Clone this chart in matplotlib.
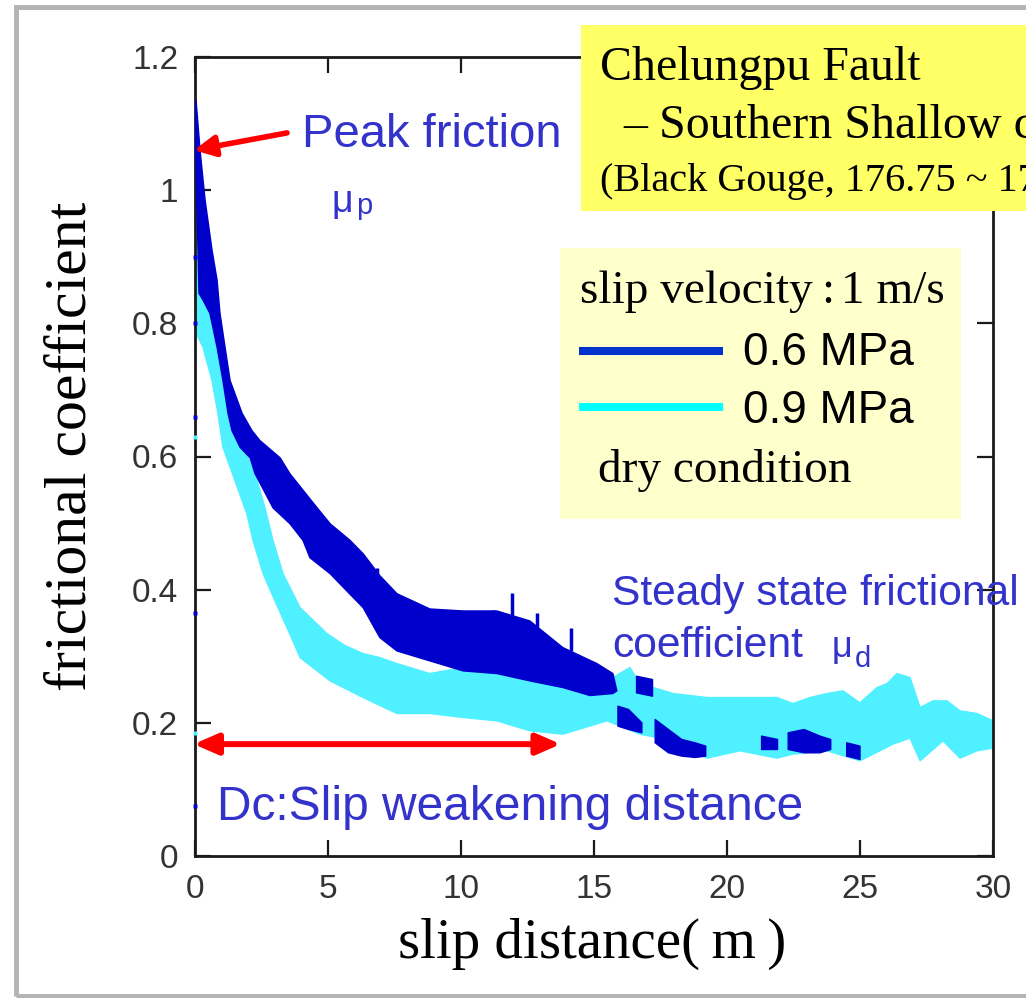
import numpy as np
import matplotlib
matplotlib.use('Agg')
import matplotlib.pyplot as plt
from matplotlib.patches import Rectangle
from matplotlib.lines import Line2D

# ---------------- data ----------------
# 0.6 MPa run: upper / lower edge of the scattered band
dark_up_x = [0.0, 0.04, 0.19, 0.38, 0.64, 0.83, 0.94, 1.13, 1.32, 1.77, 2.14, 2.44, 3.20, 3.57,
             4.59, 5.08, 5.83, 6.32, 6.95, 7.59, 8.83, 10.08, 11.35, 12.59, 13.83, 15.11, 15.71, 15.86]
dark_up_y = [1.10, 1.135, 1.060, 0.985, 0.910, 0.865, 0.815, 0.764, 0.714, 0.665, 0.639, 0.624, 0.598, 0.574,
             0.523, 0.499, 0.474, 0.454, 0.421, 0.394, 0.371, 0.368, 0.368, 0.353, 0.313, 0.289, 0.274, 0.248]
dark_lo_x = [0.15, 0.30, 0.56, 0.83, 1.05, 1.24, 1.39, 1.69, 2.07, 2.26, 2.93, 3.57, 4.06, 4.32,
             5.08, 5.71, 6.32, 6.95, 7.59, 8.83, 10.08, 11.35, 12.59, 13.83, 14.85, 15.71]
dark_lo_y = [0.845, 0.835, 0.815, 0.764, 0.714, 0.665, 0.639, 0.614, 0.598, 0.574, 0.523, 0.499, 0.474, 0.448,
             0.424, 0.398, 0.373, 0.328, 0.308, 0.293, 0.278, 0.274, 0.263, 0.253, 0.241, 0.244]
# sparse 0.6 MPa pieces beyond 16 m (nan = gap)
nan = np.nan
dark_tail_x = [15.9, 16.3, 16.8, nan, 16.6, 17.2, nan, 17.3, 17.8, 18.3, 18.8, 19.2, nan, 21.3, 21.9, nan,
               22.3, 22.9, 23.5, 23.9, nan, 24.5, 25.0]
dark_tail_hi = [0.225, 0.22, 0.20, nan, 0.27, 0.265, nan, 0.205, 0.19, 0.175, 0.17, 0.165, nan, 0.18, 0.175, nan,
                0.185, 0.19, 0.18, 0.175, nan, 0.17, 0.165]
dark_tail_lo = [0.195, 0.19, 0.185, nan, 0.245, 0.24, nan, 0.17, 0.155, 0.15, 0.148, 0.15, nan, 0.16, 0.16, nan,
                0.16, 0.155, 0.155, 0.16, nan, 0.15, 0.145]
# isolated spikes of the 0.6 MPa run
spike_x = [6.85, 11.2, 11.9, 12.86, 14.15]
spike_lo = [0.42, 0.36, 0.353, 0.343, 0.308]
spike_hi = [0.433, 0.37, 0.395, 0.365, 0.343]
dark_out_y = [0.66, 0.365, 0.075, 0.80, 0.90]

# 0.9 MPa run: upper / lower edge of the band
cyan_up_x = [0.0, 0.15, 0.23, 0.34, 0.49, 0.75, 0.94, 1.13, 1.39, 1.69, 2.26, 2.63, 2.93, 3.31, 3.95,
             4.96, 5.64, 6.32, 6.95, 7.59, 8.83, 10.08, 11.35, 12.59, 13.83, 15.11, 15.49, 16.35, 16.73,
             17.97, 19.25, 20.49, 21.88, 22.48, 23.12, 23.76, 24.36, 25.0, 25.64, 26.02, 26.39, 26.88,
             27.26, 27.74, 28.27, 28.76, 29.40, 30.0]
cyan_up_y = [1.075, 1.060, 0.985, 0.910, 0.865, 0.815, 0.764, 0.714, 0.665, 0.624, 0.574, 0.523, 0.474, 0.424, 0.373,
             0.334, 0.316, 0.304, 0.298, 0.289, 0.274, 0.283, 0.274, 0.274, 0.263, 0.259, 0.263, 0.283, 0.259,
             0.244, 0.238, 0.238, 0.238, 0.229, 0.238, 0.244, 0.248, 0.230, 0.253, 0.259, 0.274, 0.268,
             0.223, 0.233, 0.233, 0.218, 0.214, 0.203]
cyan_lo_x = [0.0, 0.30, 0.64, 0.86, 1.05, 1.50, 1.95, 2.18, 2.56, 3.12, 3.68, 3.95, 5.08, 6.32, 7.59,
             8.83, 10.08, 11.35, 12.59, 13.83, 15.49, 16.73, 17.97, 19.25, 20.49, 21.88, 22.48, 23.76,
             25.0, 26.24, 26.88, 27.26, 28.12, 28.76, 29.40, 30.0]
cyan_lo_y = [0.789, 0.764, 0.714, 0.665, 0.614, 0.564, 0.514, 0.474, 0.424, 0.373, 0.323, 0.298, 0.263, 0.238, 0.214,
             0.214, 0.208, 0.203, 0.188, 0.183, 0.203, 0.183, 0.173, 0.147, 0.158, 0.147, 0.153, 0.158,
             0.143, 0.168, 0.177, 0.143, 0.173, 0.147, 0.158, 0.162]
cyan_out_y = [0.63, 0.185]

x_ticks = [0, 5, 10, 15, 20, 25, 30]
y_ticks = [0, 0.2, 0.4, 0.6, 0.8, 1.0, 1.2]
y_tick_labels = ['0', '0.2', '0.4', '0.6', '0.8', '1', '1.2']

# Dc arrow and peak arrow (data units)
dc_range = (-0.05, 13.75)
dc_level = 0.168
peak_tip = (-0.04, 1.060)
peak_tail = (3.46, 1.086)

# ---------------- styling ----------------
W, H = 1026, 998
DARK = '#0000cc'
CYAN = '#4ff0ff'
ANN = '#3333cc'
SANS = 'Liberation Sans'
SERIF = 'Liberation Serif'

fig = plt.figure(figsize=(W / 100, H / 100), dpi=100)
fig.patch.set_facecolor('white')
ax = fig.add_axes([195 / W, 1 - 856 / H, (993 - 195) / W, (856 - 57) / H])

# bands
ax.fill(np.r_[cyan_up_x, cyan_lo_x[::-1]], np.r_[cyan_up_y, cyan_lo_y[::-1]],
        color=CYAN, lw=1.0, zorder=2)
ax.fill(np.r_[dark_up_x, dark_lo_x[::-1]], np.r_[dark_up_y, dark_lo_y[::-1]],
        color=DARK, lw=1.0, zorder=3)
ax.fill_between(dark_tail_x, dark_tail_lo, dark_tail_hi, color=DARK, lw=1.0, zorder=3)
ax.vlines(spike_x, spike_lo, spike_hi, color=DARK, lw=2.5, zorder=3)
ax.plot([0.0] * len(dark_out_y), dark_out_y, 's', ms=3, color=DARK, mec='none', clip_on=False, zorder=4)
ax.plot([0.0] * len(cyan_out_y), cyan_out_y, 's', ms=3, color=CYAN, mec='none', clip_on=False, zorder=4)

ax.set_xlim(0, 30)
ax.set_ylim(0, 1.2)
ax.set_xticks(x_ticks)
ax.set_xticklabels([str(v) for v in x_ticks])
ax.set_yticks(y_ticks)
ax.set_yticklabels(y_tick_labels)
for s in ax.spines.values():
    s.set_linewidth(2.0)
    s.set_color('#1a1a1a')
ax.tick_params(direction='in', length=11.5, width=1.6, top=True, right=True,
               colors='#1a1a1a', labelcolor='#333333', labelsize=24)
ax.tick_params(axis='x', pad=13)
ax.tick_params(axis='y', pad=12)
for lab in ax.get_xticklabels() + ax.get_yticklabels():
    lab.set_family(SANS)

# arrows
ax.annotate('', xy=peak_tip, xytext=peak_tail, annotation_clip=False,
            arrowprops=dict(arrowstyle='-|>,head_length=0.5,head_width=0.25', color='red',
                            lw=4, shrinkA=0, shrinkB=0, mutation_scale=25), zorder=6)
ax.annotate('', xy=(dc_range[0], dc_level), xytext=(dc_range[1], dc_level), annotation_clip=False,
            arrowprops=dict(arrowstyle='<|-|>,head_length=0.55,head_width=0.24', color='red',
                            lw=4.3, shrinkA=0, shrinkB=0, mutation_scale=26), zorder=6)


def ftext(px, py, s, **kw):
    kw.setdefault('va', 'baseline')
    kw.setdefault('ha', 'left')
    return fig.text(px / W, 1 - py / H, s, **kw)


# annotations
ftext(302, 147, 'Peak friction', fontsize=34, family=SANS, color=ANN)
ftext(332, 212, 'μ', fontsize=27, family=SANS, color=ANN)
ftext(356, 214, 'p', fontsize=21, family=SANS, color=ANN)
ftext(612, 605, 'Steady state frictional', fontsize=30.7, family=SANS, color=ANN, zorder=5)
ftext(612, 657, 'coefficient', fontsize=30.7, family=SANS, color=ANN)
ftext(832, 657, 'μ', fontsize=26, family=SANS, color=ANN)
ftext(855, 667, 'd', fontsize=21, family=SANS, color=ANN)
ftext(217, 820, 'Dc:Slip weakening distance', fontsize=34.5, family=SANS, color=ANN)

# axis labels
ftext(86, 446, 'frictional coefficient', fontsize=43, family=SERIF, rotation=90,
      rotation_mode='anchor', ha='center')
ftext(398, 958, 'slip distance(\u2009m\u2009)', fontsize=41, family=SERIF)

# title box
fig.add_artist(Rectangle((581 / W, 1 - 211 / H), (1100 - 581) / W, (211 - 25) / H,
                         transform=fig.transFigure, facecolor='#ffff66', edgecolor='none', zorder=3))
ftext(600, 80, 'Chelungpu Fault', fontsize=34.5, family=SERIF, zorder=4)
ftext(623, 138, '– Southern Shallow core', fontsize=34.5, family=SERIF, zorder=4)
ftext(600, 191, '(Black Gouge, 176.75 ~ 177.0 m)', fontsize=29, family=SERIF, zorder=4)

# legend box
fig.add_artist(Rectangle((560 / W, 1 - 519 / H), (961 - 560) / W, (519 - 248) / H,
                         transform=fig.transFigure, facecolor='#ffffcc', edgecolor='none', zorder=3))
ftext(580, 303, 'slip velocity', fontsize=34, family=SERIF, zorder=4)
ftext(821, 303, ':', fontsize=34, family=SERIF, zorder=4)
ftext(841, 303, '1 m/s', fontsize=34, family=SERIF, zorder=4)
fig.add_artist(Line2D([579 / W, 723 / W], [1 - 351 / H] * 2, transform=fig.transFigure,
                      color='#0033cc', lw=5.8, solid_capstyle='butt', zorder=4))
fig.add_artist(Line2D([579 / W, 723 / W], [1 - 407 / H] * 2, transform=fig.transFigure,
                      color='#00ffff', lw=5.8, solid_capstyle='butt', zorder=4))
ftext(743, 365, '0.6 MPa', fontsize=33, family=SANS, zorder=4)
ftext(743, 423, '0.9 MPa', fontsize=33, family=SANS, zorder=4)
ftext(598, 482, 'dry condition', fontsize=34, family=SERIF, zorder=4)

# outer grey frame
fig.add_artist(Rectangle((15.5 / W, 1 - 995.5 / H), (1100 - 15.5) / W, (995.5 - 6.5) / H,
                         transform=fig.transFigure, fill=False, edgecolor='#b4b4b4', lw=3.6, zorder=10))

fig.savefig('out.png', dpi=100)
